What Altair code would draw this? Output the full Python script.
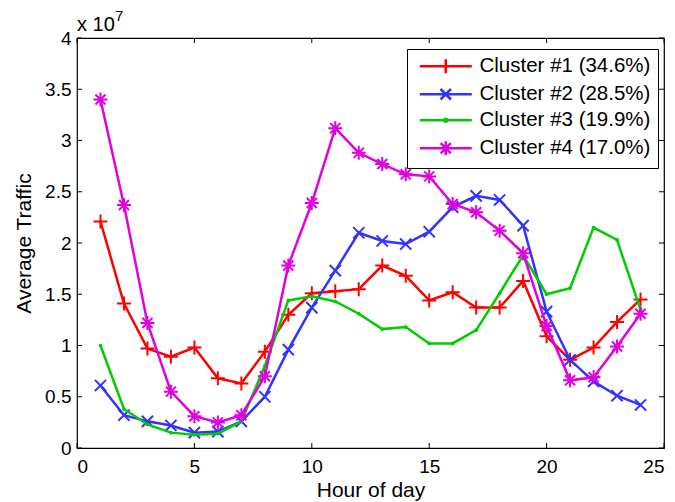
import altair as alt
import pandas as pd

hours = list(range(1, 25))
c1 = [2.21, 1.41, 0.97, 0.89, 0.98, 0.68, 0.63, 0.94, 1.30, 1.51, 1.53, 1.55, 1.78, 1.68, 1.44, 1.52, 1.37, 1.37, 1.63, 1.09, 0.86, 0.98, 1.23, 1.45]
c2 = [0.61, 0.32, 0.26, 0.22, 0.15, 0.16, 0.26, 0.50, 0.96, 1.37, 1.73, 2.10, 2.02, 1.99, 2.11, 2.35, 2.46, 2.42, 2.17, 1.33, 0.86, 0.65, 0.51, 0.42]
c3 = [1.00, 0.38, 0.23, 0.15, 0.13, 0.14, 0.26, 0.80, 1.44, 1.48, 1.43, 1.31, 1.16, 1.18, 1.02, 1.02, 1.15, 1.51, 1.88, 1.50, 1.56, 2.15, 2.03, 1.35]
c4 = [3.40, 2.37, 1.22, 0.55, 0.31, 0.25, 0.32, 0.70, 1.78, 2.39, 3.12, 2.88, 2.77, 2.67, 2.65, 2.38, 2.30, 2.12, 1.90, 1.19, 0.66, 0.69, 0.99, 1.31]
names = ["Cluster #1 (34.6%)", "Cluster #2 (28.5%)", "Cluster #3 (19.9%)", "Cluster #4 (17.0%)"]
colors = ["#ff0000", "#3333ff", "#00cc00", "#e000e0"]
x_ticks = [0, 5, 10, 15, 20, 25]
y_ticks = [0, 0.5, 1, 1.5, 2, 2.5, 3, 3.5, 4]

series = [c1, c2, c3, c4]
df = pd.DataFrame({
    "hour": hours * 4,
    "traffic": [v for s in series for v in s],
    "series": [n for n in names for _ in hours],
})

FONT = "Liberation Sans"
W, H = 587, 410

# marker shapes (unit box)
plus = "M-1,0H1M0,-1V1"
cross = "M-0.8,-0.8L0.8,0.8M-0.8,0.8L0.8,-0.8"
star = "M-1,0H1M0,-1V1M-0.72,-0.72L0.72,0.72M-0.72,0.72L0.72,-0.72"

# legend symbols: line + marker
m = 3.07
line = "M-0.64,0H6.79"
leg_paths = [
    line + f"M{m-1:.2f},0H{m+1:.2f}M{m:.2f},-1V1",
    line + f"M{m-0.75:.2f},-0.75L{m+0.75:.2f},0.75M{m-0.75:.2f},0.75L{m+0.75:.2f},-0.75",
    line + f"M{m+0.2:.2f},0A0.2,0.2 0 1,1 {m-0.2:.2f},0A0.2,0.2 0 1,1 {m+0.2:.2f},0Z",
    line + f"M{m-1:.2f},0H{m+1:.2f}M{m:.2f},-1V1M{m-0.72:.2f},-0.72L{m+0.72:.2f},0.72M{m-0.72:.2f},0.72L{m+0.72:.2f},-0.72",
]

xs = alt.Scale(domain=[0, 25], nice=False)
ys = alt.Scale(domain=[0, 4], nice=False)

X = alt.X("hour:Q", scale=xs, axis=alt.Axis(values=x_ticks, title="Hour of day", grid=False,
                                              ticks=False, tickSize=0, domain=False, labelPadding=9,
                                              titlePadding=3))
Y = alt.Y("traffic:Q", scale=ys, axis=alt.Axis(values=y_ticks, format="~g", title="Average Traffic",
                                                grid=False, ticks=False, tickSize=0, domain=False,
                                                labelPadding=6, titlePadding=10))

base = alt.Chart(df)
layers = []
marker_defs = [
    dict(shape=plus, size=196, filled=False, strokeWidth=2),
    dict(shape=cross, size=196, filled=False, strokeWidth=2),
    dict(shape="circle", size=14, filled=True, strokeWidth=0),
    dict(shape=star, size=196, filled=False, strokeWidth=2),
]
for name, col, md in zip(names, colors, marker_defs):
    sel = base.transform_filter(alt.datum.series == name)
    layers.append(sel.mark_line(color=col, strokeWidth=2.5).encode(x=X, y=Y))
    layers.append(sel.mark_point(color=col, opacity=1, **md).encode(x=X, y=Y))

leg_kw = dict(title=None, orient="none", legendX=330, legendY=11, padding=7, strokeColor="black",
              fillColor="white", cornerRadius=0, labelFont=FONT, labelFontSize=20.5,
              labelColor="black", symbolSize=196, symbolStrokeWidth=2.5, symbolOpacity=1,
              rowPadding=5, labelOffset=45, labelLimit=400)
legend_layer = base.transform_filter("datum.hour < 0").mark_point(filled=False, strokeWidth=2.5).encode(
    x=X, y=Y,
    color=alt.Color("series:N", scale=alt.Scale(domain=names, range=colors), legend=alt.Legend(**leg_kw)),
    shape=alt.Shape("series:N", scale=alt.Scale(domain=names, range=leg_paths), legend=alt.Legend(**leg_kw)),
)

# inward tick marks on all four sides
xt = pd.DataFrame({"hour": x_ticks})
yt = pd.DataFrame({"traffic": y_ticks})
tick_bottom = alt.Chart(xt).mark_rule(color="black", strokeWidth=1).encode(
    x=alt.X("hour:Q", scale=xs), y=alt.value(H), y2=alt.value(H - 5))
tick_top = alt.Chart(xt).mark_rule(color="black", strokeWidth=1).encode(
    x=alt.X("hour:Q", scale=xs), y=alt.value(0), y2=alt.value(5))
tick_left = alt.Chart(yt).mark_rule(color="black", strokeWidth=1).encode(
    y=alt.Y("traffic:Q", scale=ys), x=alt.value(0), x2=alt.value(5))
tick_right = alt.Chart(yt).mark_rule(color="black", strokeWidth=1).encode(
    y=alt.Y("traffic:Q", scale=ys), x=alt.value(W), x2=alt.value(W - 5))

exp_label = alt.Chart(pd.DataFrame({"t": ["x 10"]})).mark_text(
    align="left", baseline="alphabetic", font=FONT, fontSize=20, color="black").encode(
    x=alt.value(0), y=alt.value(-7), text="t:N")
exp_sup = alt.Chart(pd.DataFrame({"t": ["7"]})).mark_text(
    align="left", baseline="alphabetic", font=FONT, fontSize=15, color="black").encode(
    x=alt.value(38), y=alt.value(-17), text="t:N")

chart = alt.layer(*layers, legend_layer, tick_bottom, tick_top, tick_left, tick_right,
                  exp_label, exp_sup).properties(
    width=W, height=H,
    autosize=alt.AutoSizeParams(type="none"),
    padding={"left": 77, "top": 38, "right": 11, "bottom": 54},
    background="white",
).configure_view(stroke="black", strokeWidth=1.2).configure_axis(
    labelFont=FONT, titleFont=FONT, labelFontSize=19, titleFontSize=21, labelColor="black",
    titleColor="black", titleFontWeight="normal",
)

chart.save("out.html", embed_options={"renderer": "svg", "actions": False})
